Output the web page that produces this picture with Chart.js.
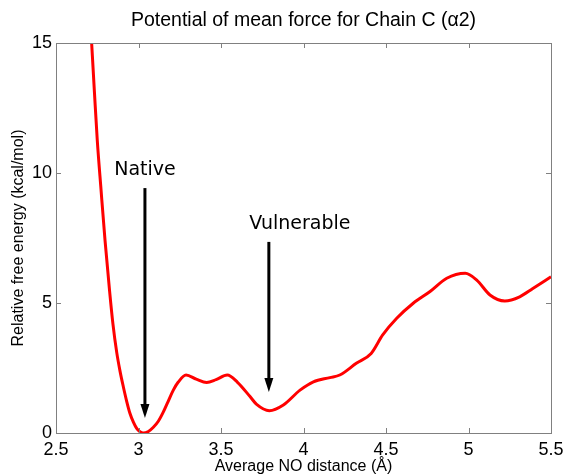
<!DOCTYPE html>
<html>
<head>
<meta charset="utf-8">
<script src="https://cdn.jsdelivr.net/npm/chart.js@4"></script>
<style>
  body { margin: 0; background: #fff; }
  #wrap { width: 567px; height: 475px; position: relative; }
</style>
</head>
<body>
<div id="wrap"><canvas id="pmfChart"></canvas></div>
<script>
// average NO distance (Å) and relative free energy (kcal/mol)
var distance = [2.70, 2.716, 2.733, 2.75, 2.773, 2.797, 2.825, 2.845, 2.868, 2.888, 2.908, 2.928, 2.948,
  2.969, 2.989, 3.009, 3.029, 3.06, 3.09, 3.12, 3.15, 3.18, 3.211, 3.24, 3.288,
  3.35, 3.413, 3.47, 3.538, 3.60, 3.676, 3.716, 3.793, 3.878, 3.979, 4.06,
  4.16, 4.22, 4.32, 4.41, 4.48, 4.565, 4.665, 4.767, 4.868, 4.98, 5.05, 5.13, 5.22, 5.31, 5.39, 5.5];
var energy = [16.8, 15.0, 13.1, 11.27, 9.35, 7.42, 5.45, 4.2, 3.1, 2.38, 1.78, 1.23, 0.76,
  0.42, 0.18, 0.05, 0.0, 0.06, 0.22, 0.45, 0.8, 1.22, 1.65, 1.95, 2.23,
  2.07, 1.94, 2.05, 2.23, 1.95, 1.40, 1.1, 0.86, 1.08, 1.65, 1.97,
  2.13, 2.23, 2.68, 3.06, 3.77, 4.41, 4.99, 5.44, 5.95, 6.14, 5.88, 5.31, 5.08, 5.24, 5.56, 6.01];

var xTicks = [2.5, 3, 3.5, 4, 4.5, 5, 5.5];
var yTicks = [0, 5, 10, 15];

// arrow annotations: label, x, top of shaft, arrow tip
var markLabels = ["Native", "Vulnerable"];
var markX = [3.039, 3.79];
var markTop = [9.42, 7.35];
var markTip = [0.58, 1.58];
var markLabelY = [10.12, 8.05];

var points = distance.map(function (d, i) { return {x: d, y: energy[i]}; });

var boxColor = "#808080";

var decorPlugin = {
  id: "decor",
  afterDatasetsDraw: function (chart) {
    var ctx = chart.ctx;
    var a = chart.chartArea;
    var xs = chart.scales.x, ys = chart.scales.y;
    ctx.save();
    // axes box with inward ticks
    ctx.strokeStyle = boxColor;
    ctx.lineWidth = 1;
    ctx.strokeRect(a.left + 0.5, a.top + 0.5, a.right - a.left, a.bottom - a.top);
    ctx.beginPath();
    xTicks.forEach(function (t) {
      var px = Math.round(xs.getPixelForValue(t)) + 0.5;
      ctx.moveTo(px, a.bottom); ctx.lineTo(px, a.bottom - 5);
      ctx.moveTo(px, a.top); ctx.lineTo(px, a.top + 5);
    });
    yTicks.forEach(function (t) {
      var py = Math.round(ys.getPixelForValue(t)) + 0.5;
      ctx.moveTo(a.left, py); ctx.lineTo(a.left + 5, py);
      ctx.moveTo(a.right, py); ctx.lineTo(a.right - 5, py);
    });
    ctx.stroke();

    // arrows and labels
    ctx.strokeStyle = "#000";
    ctx.fillStyle = "#000";
    ctx.lineWidth = 3;
    ctx.font = "19px 'DejaVu Sans'";
    ctx.textAlign = "center";
    ctx.textBaseline = "middle";
    markLabels.forEach(function (lab, i) {
      var px = xs.getPixelForValue(markX[i]);
      var top = ys.getPixelForValue(markTop[i]);
      var tip = ys.getPixelForValue(markTip[i]);
      ctx.beginPath();
      ctx.moveTo(px, top);
      ctx.lineTo(px, tip - 12);
      ctx.stroke();
      ctx.beginPath();
      ctx.moveTo(px - 4.5, tip - 14);
      ctx.lineTo(px + 4.5, tip - 14);
      ctx.lineTo(px, tip);
      ctx.closePath();
      ctx.fill();
      ctx.fillText(lab, px + (i === 0 ? 0 : 31), ys.getPixelForValue(markLabelY[i]));
    });

    // title
    ctx.font = "19.5px 'Liberation Sans'";
    ctx.fillText("Potential of mean force for Chain C (\u03b12)", (a.left + a.right) / 2, 21);
    ctx.restore();
  }
};

new Chart(document.getElementById("pmfChart").getContext("2d"), {
  type: "line",
  data: {
    datasets: [{
      data: points,
      borderColor: "#ff0000",
      borderWidth: 3,
      pointRadius: 0,
      cubicInterpolationMode: "monotone",
      fill: false
    }]
  },
  options: {
    responsive: true,
    maintainAspectRatio: false,
    animation: false,
    layout: {padding: {top: 43, right: 16, left: 0, bottom: 0}},
    plugins: {legend: {display: false}, tooltip: {enabled: false}, title: {display: false}},
    scales: {
      x: {
        type: "linear",
        min: 2.5, max: 5.5,
        afterBuildTicks: function (s) { s.ticks = xTicks.map(function (v) { return {value: v}; }); },
        afterFit: function (s) { s.height = 42; s.paddingLeft = 0; s.paddingRight = 0; },
        grid: {display: false, drawTicks: false},
        border: {display: false},
        ticks: {color: "#000", padding: 6, maxRotation: 0, font: {family: "Liberation Sans", size: 18},
          callback: function (v) { return String(v); }},
        title: {display: true, text: "Average NO distance (\u00c5)", color: "#000", padding: {top: 0, bottom: 0},
          font: {family: "Liberation Sans", size: 16, lineHeight: 1.0}}
      },
      y: {
        min: 0, max: 15,
        afterBuildTicks: function (s) { s.ticks = yTicks.map(function (v) { return {value: v}; }); },
        afterFit: function (s) { s.width = 56; s.paddingTop = 0; s.paddingBottom = 0; },
        grid: {display: false, drawTicks: false},
        border: {display: false},
        ticks: {color: "#000", padding: 4, font: {family: "Liberation Sans", size: 18}},
        title: {display: true, text: "Relative free energy (kcal/mol)", color: "#000", padding: {top: 11, bottom: 0},
          font: {family: "Liberation Sans", size: 16, lineHeight: 1.0}}
      }
    }
  },
  plugins: [decorPlugin]
});
</script>
</body>
</html>
